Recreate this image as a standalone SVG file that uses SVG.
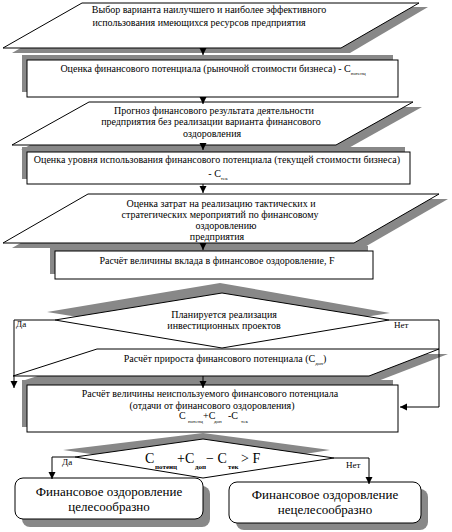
<svg xmlns="http://www.w3.org/2000/svg" width="452" height="532" viewBox="0 0 452 532">
<style>
.bg{fill:#fff}
.sh{fill:#888;stroke:none}
.box{fill:#fff;stroke:#000;stroke-width:1}
.t{font-family:"Liberation Serif","DejaVu Serif","Times New Roman",serif;font-size:10px;fill:#000}
.m{text-anchor:middle}
.sub{font-size:5px}
.big{font-family:"Liberation Serif","DejaVu Serif","Times New Roman",serif;font-size:14px;fill:#000}
.bx{font-family:"Liberation Serif","DejaVu Serif","Times New Roman",serif;font-size:13px;fill:#000;text-anchor:middle}
.bsub{font-size:7px;font-weight:bold}
.lbl{font-family:"Liberation Serif","DejaVu Serif","Times New Roman",serif;font-size:9px;fill:#000}
.con{fill:none;stroke:#000;stroke-width:1}
</style>
<defs>
<marker id="ah" markerUnits="userSpaceOnUse" markerWidth="8" markerHeight="8" refX="7" refY="3.5" orient="auto">
<path d="M0,0 L7,3.5 L0,7 z" fill="#000"/>
</marker>
</defs>
<rect class="bg" x="0" y="0" width="452" height="532"/>

<g id="n1">
<polygon class="sh" points="91,7 428,7 350,53 12,53"/>
<polygon class="box" points="82,3 419,3 341,48 3,48"/>
<text class="t m" x="209" y="13">Выбор варианта наилучшего и наиболее эффективного</text>
<text class="t m" x="199" y="26">использования имеющихся ресурсов предприятия</text>
</g>

<g id="n2">
<rect class="sh" x="22" y="55" width="371" height="37"/>
<rect class="box" x="27" y="60" width="371" height="37"/>
<text class="t m" x="213" y="72">Оценка финансового потенциала (рыночной стоимости бизнеса) - С<tspan class="sub" dy="3">потенц</tspan></text>
</g>

<g id="n3">
<polygon class="sh" points="98,107 422,107 345,150 21,150"/>
<polygon class="box" points="89,102 413,102 336,145 12,145"/>
<text class="t m" x="214" y="114">Прогноз финансового результата деятельности</text>
<text class="t m" x="211" y="125">предприятия без реализации варианта финансового</text>
<text class="t m" x="212" y="137">оздоровления</text>
</g>

<g id="n4">
<rect class="sh" x="22" y="147" width="383" height="32"/>
<rect class="box" x="27" y="152" width="383" height="32"/>
<text class="t m" x="217" y="163">Оценка уровня использования финансового потенциала (текущей стоимости бизнеса)</text>
<text class="t m" x="218" y="177">- С<tspan class="sub" dy="3">тек</tspan></text>
</g>

<g id="n5">
<polygon class="sh" points="97,199 448,199 363,248 12,248"/>
<polygon class="box" points="88,194 439,194 354,243 3,243"/>
<text class="t m" x="221" y="207">Оценка затрат на реализацию тактических и</text>
<text class="t m" x="220" y="218">стратегических мероприятий по финансовому</text>
<text class="t m" x="226" y="229">оздоровлению</text>
<text class="t m" x="217" y="240">предприятия</text>
</g>

<g id="n6">
<rect class="sh" x="50" y="246" width="318" height="28"/>
<rect class="box" x="55" y="251" width="318" height="28"/>
<text class="t m" x="217" y="264">Расчёт величины вклада в финансовое оздоровление, F</text>
</g>

<g id="n7">
<polygon class="sh" points="220,283 390,313 220,340 47,312"/>
<polygon class="box" points="222,293 389,320 222,348 55,320"/>
<text class="t m" x="224" y="318">Планируется реализация</text>
<text class="t m" x="224" y="329">инвестиционных проектов</text>
</g>

<g id="n8">
<polygon class="sh" points="106,354 448,354 378,381 22,381"/>
<polygon class="box" points="97,349 439,349 369,376 13,376"/>
<text class="t m" x="225" y="362">Расчёт прироста финансового потенциала (С<tspan class="sub" dy="3">доп</tspan><tspan dy="-3">)</tspan></text>
</g>

<g id="n9">
<rect class="sh" x="22" y="380" width="371" height="47"/>
<rect class="box" x="27" y="385" width="371" height="47"/>
<text class="t m" x="210" y="397">Расчёт величины неиспользуемого финансового потенциала</text>
<text class="t m" x="212" y="409">(отдачи от финансового оздоровления)</text>
<text class="t" y="419"><tspan x="179">С</tspan><tspan class="sub" x="188" dy="4">потенц</tspan><tspan x="203" dy="-4">+С</tspan><tspan class="sub" x="214" dy="4">доп</tspan><tspan x="228" dy="-4">-С</tspan><tspan class="sub" x="241" dy="4">тек</tspan></text>
</g>

<g id="n10">
<polygon class="sh" points="203,433 330,450 203,470 63,450"/>
<polygon class="box" points="203,439 334,458 203,478 75,457"/>
<text class="big" y="463"><tspan x="145">С</tspan><tspan class="bsub" x="155" dy="6">потенц</tspan><tspan x="177" dy="-6">+С</tspan><tspan class="bsub" x="195" dy="6">доп</tspan><tspan x="206" dy="-6">− С</tspan><tspan class="bsub" x="228" dy="6">тек</tspan><tspan x="241" dy="-6">&gt; F</tspan></text>
</g>

<g id="n11">
<rect class="sh" x="22" y="486" width="188" height="41" rx="8"/>
<rect class="box" x="15" y="478" width="188" height="41" rx="8"/>
<text class="bx" x="109" y="496">Финансовое оздоровление</text>
<text class="bx" x="109" y="511">целесообразно</text>
</g>

<g id="n12">
<rect class="sh" x="236" y="489" width="192" height="41" rx="8"/>
<rect class="box" x="229" y="482" width="192" height="41" rx="8"/>
<text class="bx" x="325" y="499">Финансовое оздоровление</text>
<text class="bx" x="325" y="514">нецелесообразно</text>
</g>

<g id="connectors">
<line class="con" x1="203" y1="48" x2="203" y2="55" marker-end="url(#ah)"/>
<line class="con" x1="203" y1="97" x2="203" y2="104" marker-end="url(#ah)"/>
<line class="con" x1="203" y1="145" x2="203" y2="150" marker-end="url(#ah)"/>
<line class="con" x1="203" y1="184" x2="203" y2="193" marker-end="url(#ah)"/>
<line class="con" x1="203" y1="243" x2="203" y2="250" marker-end="url(#ah)"/>
<polyline class="con" points="55,320 14,320 14,388" marker-end="url(#ah)"/>
<line class="con" x1="203" y1="376" x2="203" y2="388" marker-end="url(#ah)"/>
<polyline class="con" points="389,320 439,320 439,407 400,407" marker-end="url(#ah)"/>
<polyline class="con" points="75,457 52,457 52,479" marker-end="url(#ah)"/>
<polyline class="con" points="334,458 369,458 369,484" marker-end="url(#ah)"/>
<text class="lbl" x="16" y="327">Да</text>
<text class="lbl" x="394" y="328">Нет</text>
<text class="lbl" x="62" y="465">Да</text>
<text class="lbl" x="346" y="468">Нет</text>
</g>
</svg>
